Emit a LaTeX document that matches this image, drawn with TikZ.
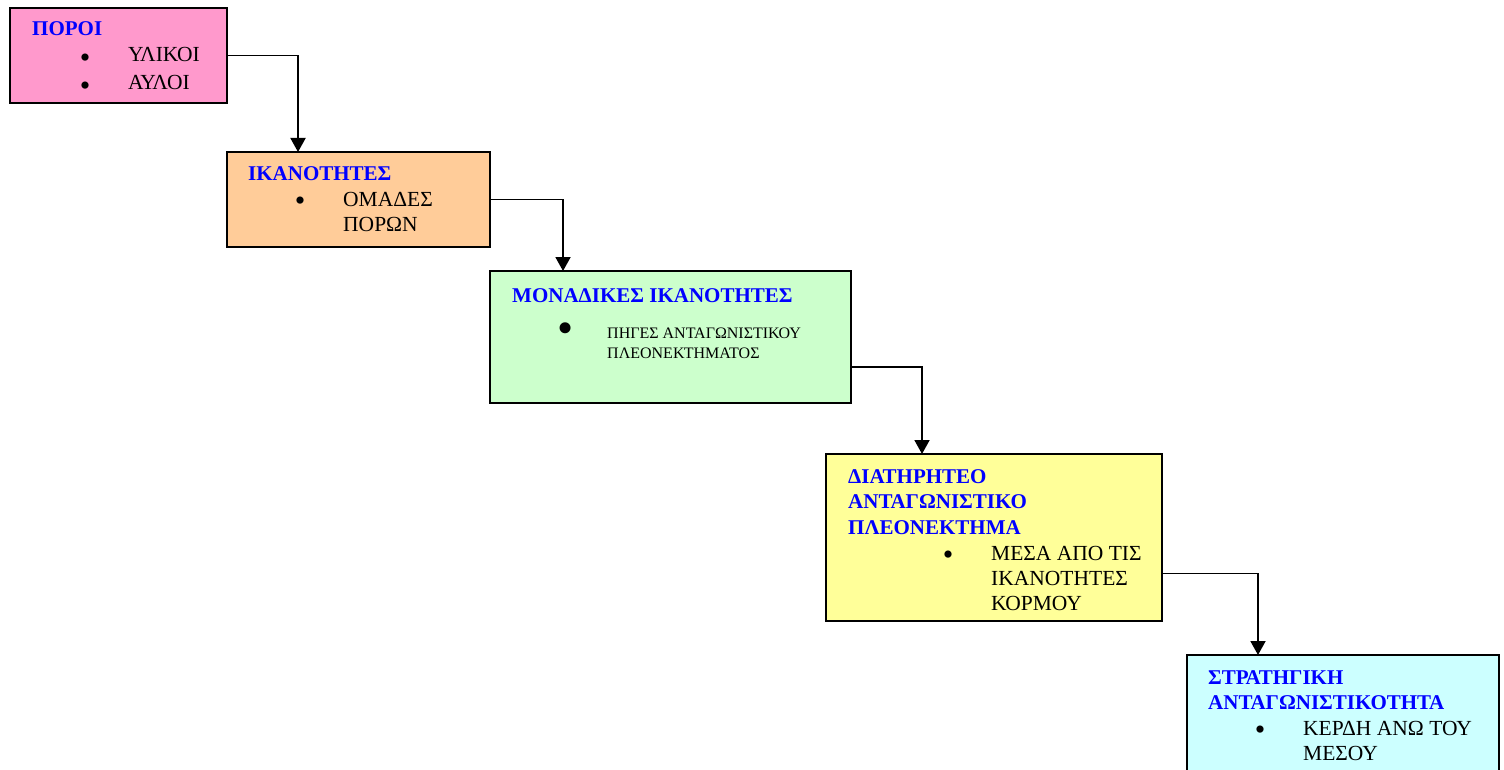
\documentclass[tikz,border=0pt]{standalone}
\usepackage{fontspec}
\setmainfont{Liberation Serif}
\usetikzlibrary{arrows.meta}
\definecolor{pinkbox}{HTML}{FF99CC}
\definecolor{peachbox}{HTML}{FFCC99}
\definecolor{greenbox}{HTML}{CCFFCC}
\definecolor{yellowbox}{HTML}{FFFF99}
\definecolor{cyanbox}{HTML}{CCFFFF}
\definecolor{titleblue}{HTML}{0000FF}
\begin{document}
\begin{tikzpicture}[x=1pt,y=-1pt,
  stagebox/.style={draw=black,line width=1.8pt,inner sep=0pt,outer sep=0pt,anchor=north west},
  title/.style={anchor=base west,inner sep=0pt,text=titleblue,font=\fontsize{21}{25}\selectfont\bfseries},
  item/.style={anchor=base west,inner sep=0pt,font=\fontsize{21.5}{25}\selectfont},
  smallitem/.style={anchor=base west,inner sep=0pt,font=\fontsize{16}{20}\selectfont},
  dot/.style={anchor=base,inner sep=0pt,font=\fontsize{30}{30}\selectfont},
  bigdot/.style={anchor=base,inner sep=0pt,font=\fontsize{46}{46}\selectfont},
  conn/.style={line width=1.9pt,-{Triangle[width=15pt,length=14pt]}}]
\useasboundingbox[fill=white] (0,0) rectangle (1504,770);

% stage boxes
\node[stagebox,fill=pinkbox,minimum width=217pt,minimum height=95pt] (b1) at (10,8) {};
\node[stagebox,fill=peachbox,minimum width=263pt,minimum height=95pt] (b2) at (227,152) {};
\node[stagebox,fill=greenbox,minimum width=361pt,minimum height=132pt] (b3) at (490,271) {};
\node[stagebox,fill=yellowbox,minimum width=336pt,minimum height=167pt] (b4) at (826,454) {};
\node[stagebox,fill=cyanbox,minimum width=312pt,minimum height=140pt] (b5) at (1187,655) {};

% connectors
\draw[conn] (b1.east) -| ([xshift=71pt]b2.north west);
\draw[conn] (b2.east) -| ([xshift=73pt]b3.north west);
\draw[conn] ([yshift=-30pt]b3.east) -| ([xshift=96pt]b4.north west);
\draw[conn] ([yshift=-36pt]b4.east) -| ([xshift=71pt]b5.north west);

% texts of the first box
\node[title] (t1) at (32,36) {ΠΟΡΟΙ};
\node[dot] (d1a) at (85,68) {•};
\node[item] (i1a) at (128,62) {ΥΛΙΚΟΙ};
\node[dot] (d1b) at (85,96) {•};
\node[item] (i1b) at (128,90) {ΑΥΛΟΙ};

% texts of the second box
\node[title] (t2) at (248,181) {ΙΚΑΝΟΤΗΤΕΣ};
\node[dot] (d2) at (300,211) {•};
\node[item] (i2a) at (343,207) {ΟΜΑΔΕΣ};
\node[item] (i2b) at (343,232) {ΠΟΡΩΝ};

% texts of the third box
\node[title] (t3) at (512,302) {ΜΟΝΑΔΙΚΕΣ ΙΚΑΝΟΤΗΤΕΣ};
\node[bigdot] (d3) at (566,343) {•};
\node[smallitem] (i3a) at (607,338) {ΠΗΓΕΣ ΑΝΤΑΓΩΝΙΣΤΙΚΟΥ};
\node[smallitem] (i3b) at (607,358) {ΠΛΕΟΝΕΚΤΗΜΑΤΟΣ};

% texts of the fourth box
\node[title] (t4a) at (848,483) {ΔΙΑΤΗΡΗΤΕΟ};
\node[title] (t4b) at (848,508) {ΑΝΤΑΓΩΝΙΣΤΙΚΟ};
\node[title] (t4c) at (848,534) {ΠΛΕΟΝΕΚΤΗΜΑ};
\node[dot] (d4) at (948,564) {•};
\node[item] (i4a) at (991,560) {ΜΕΣΑ ΑΠΟ ΤΙΣ};
\node[item] (i4b) at (991,585) {ΙΚΑΝΟΤΗΤΕΣ};
\node[item] (i4c) at (991,610) {ΚΟΡΜΟΥ};

% texts of the fifth box
\node[title] (t5a) at (1208,684) {ΣΤΡΑΤΗΓΙΚΗ};
\node[title] (t5b) at (1208,709) {ΑΝΤΑΓΩΝΙΣΤΙΚΟΤΗΤΑ};
\node[dot] (d5) at (1260,739) {•};
\node[item] (i5a) at (1303,735) {ΚΕΡΔΗ ΑΝΩ ΤΟΥ};
\node[item] (i5b) at (1303,760) {ΜΕΣΟΥ};
\end{tikzpicture}
\end{document}
